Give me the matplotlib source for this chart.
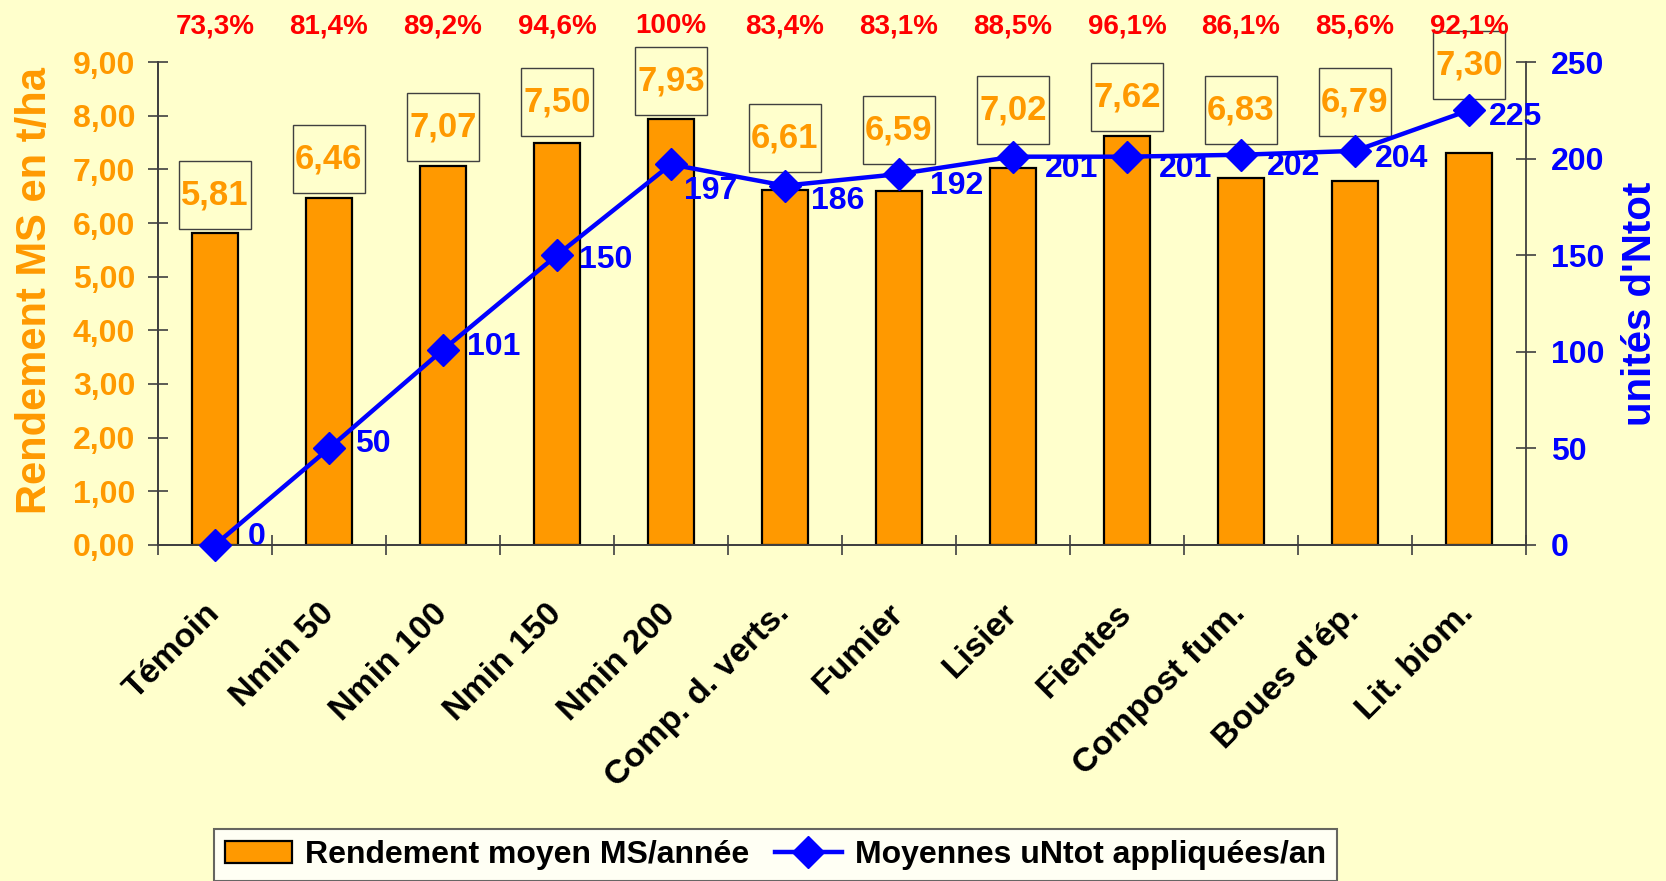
import numpy as np
import matplotlib
matplotlib.use("Agg")
import matplotlib.pyplot as plt
from matplotlib.patches import Rectangle
from matplotlib.transforms import blended_transform_factory
from matplotlib.ticker import FuncFormatter

plt.rcParams['font.family'] = ['Liberation Sans', 'DejaVu Sans']
plt.rcParams['font.weight'] = 'bold'

# data
categories = ["Témoin", "Nmin 50", "Nmin 100", "Nmin 150", "Nmin 200", "Comp. d. verts.",
              "Fumier", "Lisier", "Fientes", "Compost fum.", "Boues d'ép.", "Lit. biom."]
rendement = [5.81, 6.46, 7.07, 7.50, 7.93, 6.61, 6.59, 7.02, 7.62, 6.83, 6.79, 7.30]
ntot = [0, 50, 101, 150, 197, 186, 192, 201, 201, 202, 204, 225]
pct_labels = ["73,3%", "81,4%", "89,2%", "94,6%", "100%", "83,4%",
              "83,1%", "88,5%", "96,1%", "86,1%", "85,6%", "92,1%"]

# how far each value box sits above its bar (t/ha), and where each N label sits (pixels)
box_lift = [0.71, 0.73, 0.72, 0.75, 0.72, 0.97, 1.14, 1.08, 0.73, 1.27, 1.46, 1.64]
n_dx = [33, 26, 24, 22, 13, 26, 31, 32, 32, 26, 20, 20]
n_dy = [-8, -4, -3, 5, 27, 15, 12, 12, 12, 12, 8, 7]

ORANGE = '#FF9900'
BLUE = '#0000FF'
BG = '#FFFFCC'
AXC = '#404040'

fig = plt.figure(figsize=(16.66, 8.81), dpi=100, facecolor=BG)
ax = fig.add_axes([0.0948, 0.3814, 0.8211, 0.5482], facecolor=BG)
ax2 = ax.twinx()
ax2.patch.set_visible(False)

x = np.arange(len(categories))

# bars
bars = ax.bar(x, rendement, width=0.40, color=ORANGE, edgecolor='black', linewidth=1.6,
              label="Rendement moyen MS/année", zorder=2)

# value boxes above the bars
for i, v in enumerate(rendement):
    yc = v + box_lift[i]
    ax.add_patch(Rectangle((i - 0.315, yc - 0.635), 0.63, 1.27, fill=False,
                           edgecolor=AXC, linewidth=1.0, zorder=3, clip_on=False))
    ax.text(i, yc, f"{v:.2f}".replace('.', ','), ha='center', va='center',
            color=ORANGE, fontsize=25, zorder=4, clip_on=False)

# N applied line
line, = ax2.plot(x, ntot, color=BLUE, linewidth=3.2, marker='D', markersize=16,
                 label="Moyennes uNtot appliquées/an", zorder=5, clip_on=False)
for i, n in enumerate(ntot):
    ax2.annotate(str(n), (x[i], n), xytext=(n_dx[i] * 0.72, -n_dy[i] * 0.72),
                 textcoords='offset points', ha='left', va='center',
                 color=BLUE, fontsize=23, zorder=6, annotation_clip=False)

# percentages along the top
tr = blended_transform_factory(ax.transData, fig.transFigure)
for i, p in enumerate(pct_labels):
    ax.text(x[i], 0.97, p, transform=tr, ha='center', va='center',
            color='#FF0000', fontsize=20)

# axes ranges and ticks
ax.set_xlim(-0.5, len(categories) - 0.5)
ax.set_ylim(0, 9)
ax2.set_ylim(0, 250)
ax.set_yticks(np.arange(0, 9.01, 1))
ax2.set_yticks(np.arange(0, 251, 50))
ax.yaxis.set_major_formatter(FuncFormatter(lambda v, pos: f"{v:.2f}".replace('.', ',')))

ax.set_xticks(x)
ax.set_xticklabels(categories, rotation=45, ha='right', va='center', rotation_mode='anchor',
                   fontsize=24.5, color='black')
ax.set_xticks(np.arange(-0.5, len(categories), 1), minor=True)
ax.tick_params(axis='x', which='major', length=0, pad=46)
ax.tick_params(axis='x', which='minor', direction='inout', length=15, width=1.2, color=AXC)
ax.tick_params(axis='y', direction='inout', length=14.5, width=1.2, color=AXC,
               labelcolor=ORANGE, labelsize=23, pad=9)
ax2.tick_params(axis='y', direction='inout', length=14.5, width=1.2, color=AXC,
                labelcolor=BLUE, labelsize=23, pad=11)

for a in (ax, ax2):
    a.spines['top'].set_visible(False)
    for s in a.spines.values():
        s.set_color(AXC)
        s.set_linewidth(1.3)
ax.spines['right'].set_visible(False)

# axis titles
fig.text(35 / 1666, 1 - 290 / 881, "Rendement MS en t/ha", rotation=90, ha='center',
         va='center', color=ORANGE, fontsize=30)
fig.text(1640 / 1666, 1 - 304 / 881, "unités d'Ntot", rotation=90, ha='center',
         va='center', color=BLUE, fontsize=29)

# legend
leg = fig.legend([bars, line], [bars.get_label(), line.get_label()], loc='upper left',
                 bbox_to_anchor=(214 / 1666, 1 - 829 / 881), ncol=2, fontsize=23,
                 frameon=True, fancybox=False, facecolor='white', edgecolor=AXC,
                 handlelength=2.1, handletextpad=0.4, columnspacing=0.8,
                 borderpad=0.35, borderaxespad=0)
leg.get_frame().set_linewidth(1.5)

fig.savefig("out.png", dpi=100, facecolor=BG)
